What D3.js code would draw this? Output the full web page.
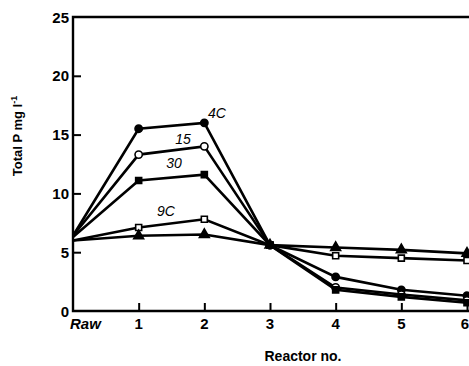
<!DOCTYPE html>
<html>
<head>
<meta charset="utf-8">
<script src="https://cdn.jsdelivr.net/npm/d3@7"></script>
<style>
  html, body { margin: 0; padding: 0; background: #fff; }
  svg { display: block; }
  text { font-family: "Liberation Sans", Arial, sans-serif; fill: #000; }
</style>
</head>
<body>
<svg id="chart" width="469" height="366"></svg>
<script>
// Reactor stages along the x axis
const stages = ["Raw", "1", "2", "3", "4", "5", "6"];
const yTicks = [0, 5, 10, 15, 20, 25];

// Total P (mg l-1) per stage for each run
const filledCircle   = [6.4, 15.5, 16.0, 5.6, 2.9, 1.8, 1.3];
const openCircle     = [6.4, 13.3, 14.0, 5.6, 2.0, 1.4, 0.9];
const filledSquare   = [6.3, 11.1, 11.6, 5.6, 1.8, 1.2, 0.7];
const openSquare     = [6.0, 7.1, 7.8, 5.6, 4.7, 4.5, 4.3];
const filledTriangle = [6.0, 6.4, 6.5, 5.6, 5.4, 5.2, 4.9];

// Hand-written run labels beside the stage-2 points
const runLabels = ["4C", "15", "30", "9C"];

const series = [
  { values: filledCircle,   symbol: d3.symbolCircle,   fill: "#000", label: runLabels[0] },
  { values: openCircle,     symbol: d3.symbolCircle,   fill: "#fff", label: runLabels[1] },
  { values: filledSquare,   symbol: d3.symbolSquare,   fill: "#000", label: runLabels[2] },
  { values: openSquare,     symbol: d3.symbolSquare,   fill: "#fff", label: runLabels[3] },
  { values: filledTriangle, symbol: d3.symbolTriangle, fill: "#000", label: null }
];

const svg = d3.select("#chart");
const mLeft = 73, mRight = 467, mTop = 17, mBottom = 311;

const x = d3.scalePoint().domain(stages).range([mLeft, mRight]);
const y = d3.scaleLinear().domain([0, 25]).range([mBottom, mTop]);

// Frame: left, top and bottom edges
svg.append("path")
  .attr("d", `M469,${mTop}H${mLeft}V${mBottom}H469`)
  .attr("fill", "none").attr("stroke", "#000").attr("stroke-width", 2.4);

// Y axis: inward ticks, labels on the left
const yAxis = d3.axisRight(y).tickValues(yTicks).tickSize(8).tickFormat("");
const gy = svg.append("g").attr("transform", `translate(${mLeft},0)`).call(yAxis);
gy.select(".domain").remove();
gy.selectAll(".tick line").attr("stroke", "#000").attr("stroke-width", 2)
  .filter(d => d === 0 || d === 25).remove();
svg.append("g").selectAll("text").data(yTicks).join("text")
  .attr("x", mLeft - 4).attr("y", d => y(d) + 5.5)
  .attr("text-anchor", "end").attr("font-size", 15).attr("font-weight", "bold")
  .text(d => d);

// X axis: upward ticks, labels below
const last = stages[stages.length - 1];
const xAxis = d3.axisTop(x).tickSize(8).tickFormat("");
const gx = svg.append("g").attr("transform", `translate(0,${mBottom})`).call(xAxis);
gx.select(".domain").remove();
gx.selectAll(".tick line").attr("stroke", "#000").attr("stroke-width", 2)
  .filter(d => d === "Raw").remove();
svg.append("g").selectAll("text").data(stages).join("text")
  .attr("x", d => d === "Raw" ? x(d) - 3 : d === last ? 469 : x(d))
  .attr("y", mBottom + 18)
  .attr("text-anchor", d => d === "Raw" ? "start" : d === last ? "end" : "middle")
  .attr("font-size", 15).attr("font-weight", "bold")
  .attr("font-style", d => d === "Raw" ? "italic" : "normal")
  .text(d => d);

// Axis titles
svg.append("text").attr("x", 303).attr("y", 361)
  .attr("text-anchor", "middle").attr("font-size", 14).attr("font-weight", "bold")
  .text("Reactor no.");
const yt = svg.append("text")
  .attr("transform", "translate(22,136) rotate(-90)")
  .attr("text-anchor", "middle").attr("font-size", 13).attr("font-weight", "bold");
yt.append("tspan").text("Total P mg l");
yt.append("tspan").attr("font-size", 9).attr("dy", -5).text("-1");

// Lines and markers
const line = d3.line().x((d, i) => x(stages[i])).y(d => y(d));
const g = svg.append("g");
series.forEach(s => {
  g.append("path").datum(s.values).attr("d", line)
    .attr("fill", "none").attr("stroke", "#000").attr("stroke-width", 2.6);
});
series.forEach(s => {
  g.selectAll(null).data(s.values.slice(1)).join("path")
    .attr("transform", (d, i) => `translate(${x(stages[i + 1])},${y(d)})`)
    .attr("d", d3.symbol().type(s.symbol).size(s.symbol === d3.symbolSquare ? 36 : 42))
    .attr("fill", s.fill).attr("stroke", "#000").attr("stroke-width", 1.6);
});

// Hand-written run labels
const labelPos = [[217, 118], [183, 144], [174, 168], [166, 216]];
series.filter(s => s.label).forEach((s, i) => {
  svg.append("text").attr("x", labelPos[i][0]).attr("y", labelPos[i][1])
    .attr("font-size", 14).attr("font-style", "italic").attr("text-anchor", "middle")
    .attr("font-family", "DejaVu Serif")
    .text(s.label);
});
</script>
</body>
</html>
